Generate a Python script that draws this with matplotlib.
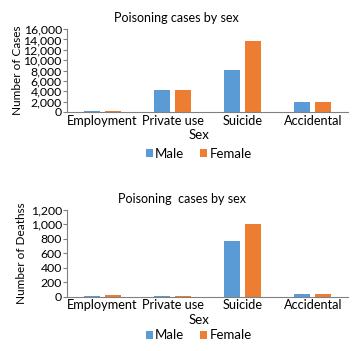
import numpy as np
import matplotlib
matplotlib.use("Agg")
import matplotlib.pyplot as plt
from matplotlib.ticker import FuncFormatter

plt.rcParams["font.family"] = ["Lato", "DejaVu Sans"]

categories = ["Employment", "Private use", "Suicide", "Accidental"]
series = ["Male", "Female"]
cases_male = [250, 4250, 8100, 2000]
cases_female = [250, 4250, 13700, 2000]
deaths_male = [3, 5, 770, 35]
deaths_female = [20, 10, 1005, 35]

BLUE = "#5B9BD5"
ORANGE = "#ED7D31"
AXIS = "#808080"

fig = plt.figure(figsize=(3.55, 3.51), dpi=100)


def _panel(rect, male, female, title, title_x, ylabel, ylab_x, ymax, ystep, leg_y):
    ax = fig.add_axes(rect)
    x = np.arange(len(categories))
    w = 0.23
    off = 0.15
    ax.bar(x - off, male, w, color=BLUE, label=series[0])
    ax.bar(x + off, female, w, color=ORANGE, label=series[1])
    ax.set_xlim(-0.5, len(categories) - 0.5)
    ax.set_ylim(0, ymax)
    ax.set_yticks(np.arange(0, ymax + 1, ystep))
    ax.yaxis.set_major_formatter(FuncFormatter(lambda v, p: f"{int(v):,}"))
    ax.set_xticks(x)
    ax.set_xticklabels(categories)
    for s in ["top", "right"]:
        ax.spines[s].set_visible(False)
    for s in ["left", "bottom"]:
        ax.spines[s].set_color(AXIS)
        ax.spines[s].set_linewidth(0.8)
    ax.tick_params(axis="x", length=0, labelsize=9.2, pad=2)
    ax.tick_params(axis="y", length=3, color=AXIS, labelsize=8.8, pad=1)
    ax.set_title(title, fontsize=9, pad=5, x=title_x)
    ax.set_ylabel(ylabel, fontsize=8.5)
    ax.yaxis.set_label_coords(ylab_x, 0.5)
    ax.set_xlabel("Sex", fontsize=9.5)
    ax.xaxis.set_label_coords(0.47, -0.2)
    fig.legend(handles=ax.containers, labels=series, loc="center",
               bbox_to_anchor=(0.56, leg_y), ncol=2, frameon=False,
               fontsize=9.5, handlelength=0.55, handleheight=0.55,
               handletextpad=0.15, columnspacing=1.2)
    return ax


_panel([0.19, 0.681, 0.79, 0.236], cases_male, cases_female,
       "Poisoning cases by sex", 0.39, "Number of Cases", -0.16,
       16000, 2000, 0.561)
_panel([0.19, 0.155, 0.79, 0.247], deaths_male, deaths_female,
       "Poisoning  cases by sex", 0.41, "Number of Deathss", -0.145,
       1200, 200, 0.045)

fig.savefig("out.png", dpi=100)
